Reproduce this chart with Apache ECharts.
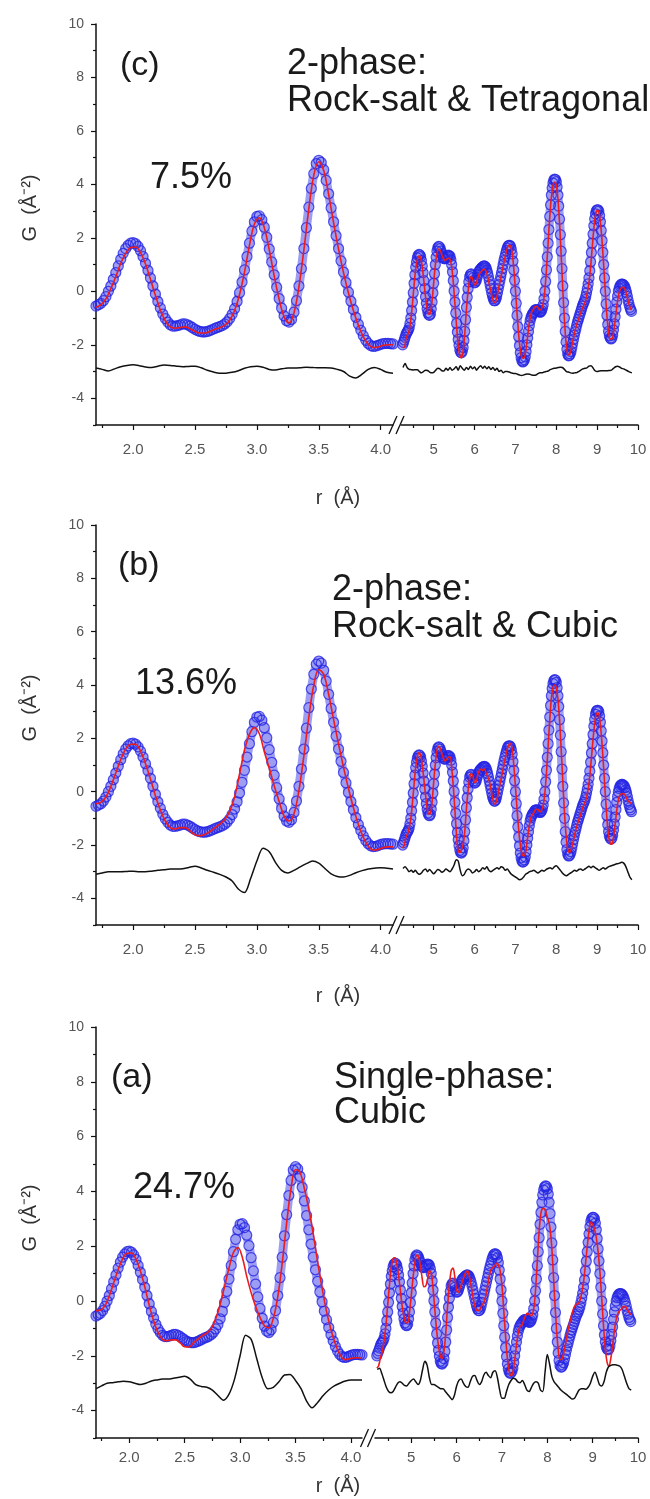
<!DOCTYPE html>
<html>
<head>
<meta charset="utf-8">
<script src="https://cdn.jsdelivr.net/npm/echarts@6/dist/echarts.min.js"></script>
<style>
  html, body { margin: 0; padding: 0; background: #fff; }
  #chart { width: 650px; height: 1499px; }
</style>
</head>
<body>
<div id="chart"></div>
<script>
// ---- data (G in 1/A^2) ----
// observed G(r), the same experimental curve in all three panels
// left part: r = 1.70 .. 4.10, step 0.02
const OBS_L = [
  -0.55,-0.50,-0.45,-0.35,-0.20,0.00,0.20,0.45,0.70,0.95,
  1.20,1.42,1.60,1.72,1.80,1.82,1.78,1.68,1.52,1.30,
  1.05,0.78,0.50,0.20,-0.10,-0.38,-0.62,-0.85,-1.02,-1.15,
  -1.25,-1.30,-1.30,-1.28,-1.25,-1.22,-1.22,-1.25,-1.30,-1.36,
  -1.42,-1.47,-1.50,-1.52,-1.52,-1.50,-1.47,-1.43,-1.39,-1.35,
  -1.32,-1.28,-1.22,-1.14,-1.02,-0.86,-0.65,-0.38,-0.05,0.35,
  0.80,1.30,1.80,2.25,2.60,2.80,2.82,2.68,2.40,2.02,
  1.58,1.10,0.62,0.15,-0.27,-0.63,-0.92,-1.10,-1.15,-1.05,
  -0.78,-0.35,0.20,0.85,1.60,2.38,3.15,3.85,4.40,4.78,
  4.90,4.82,4.55,4.15,3.65,3.12,2.60,2.08,1.60,1.14,
  0.72,0.33,-0.03,-0.37,-0.68,-0.97,-1.23,-1.46,-1.66,-1.83,
  -1.95,-2.03,-2.06,-2.05,-2.02,-1.98,-1.96,-1.95,-1.95,-1.96,
  -1.97
];
// right part: r = 4.24 .. 9.84, step 0.02
const OBS_R = [
  -2.00,-1.91,-1.82,-1.72,-1.62,-1.55,-1.50,-1.45,-1.36,-1.20,
  -1.00,-0.72,-0.40,-0.05,0.30,0.62,0.90,1.10,1.25,1.34,
  1.38,1.36,1.30,1.15,0.95,0.70,0.40,0.10,-0.20,-0.45,
  -0.65,-0.80,-0.88,-0.90,-0.85,-0.66,-0.40,-0.06,0.30,0.66,
  1.00,1.28,1.50,1.63,1.68,1.66,1.60,1.50,1.40,1.31,
  1.25,1.22,1.22,1.26,1.30,1.34,1.35,1.34,1.30,1.18,
  1.00,0.73,0.40,0.01,-0.40,-0.81,-1.20,-1.53,-1.80,-2.02,
  -2.20,-2.28,-2.30,-2.24,-2.10,-1.84,-1.50,-1.06,-0.60,-0.22,
  0.10,0.35,0.55,0.63,0.65,0.59,0.50,0.40,0.32,0.34,
  0.40,0.51,0.62,0.71,0.78,0.82,0.85,0.89,0.92,0.94,
  0.95,0.93,0.88,0.79,0.68,0.55,0.40,0.25,0.10,-0.05,
  -0.18,-0.28,-0.35,-0.35,-0.30,-0.19,-0.05,0.10,0.25,0.40,
  0.55,0.70,0.85,1.00,1.15,1.28,1.40,1.52,1.62,1.69,
  1.72,1.72,1.68,1.57,1.40,1.13,0.80,0.41,0.00,-0.45,
  -0.90,-1.32,-1.70,-2.03,-2.30,-2.48,-2.60,-2.64,-2.62,-2.56,
  -2.45,-2.25,-2.00,-1.75,-1.50,-1.28,-1.10,-0.98,-0.90,-0.84,
  -0.80,-0.75,-0.70,-0.68,-0.68,-0.70,-0.72,-0.76,-0.78,-0.77,
  -0.72,-0.63,-0.50,-0.28,0.00,0.37,0.80,1.29,1.80,2.31,
  2.80,3.23,3.60,3.87,4.05,4.16,4.20,4.18,4.10,3.90,
  3.60,3.19,2.70,2.12,1.50,0.85,0.20,-0.42,-1.00,-1.50,
  -1.90,-2.17,-2.35,-2.41,-2.40,-2.34,-2.25,-2.11,-1.95,-1.80,
  -1.65,-1.52,-1.40,-1.27,-1.15,-1.05,-0.95,-0.85,-0.75,-0.65,
  -0.55,-0.47,-0.40,-0.31,-0.20,-0.06,0.10,0.28,0.50,0.77,
  1.10,1.45,1.80,2.14,2.45,2.71,2.90,3.01,3.05,3.05,
  3.00,2.84,2.60,2.28,1.90,1.46,1.00,0.50,0.00,-0.47,
  -0.90,-1.24,-1.50,-1.66,-1.75,-1.78,-1.75,-1.63,-1.45,-1.22,
  -0.95,-0.67,-0.40,-0.18,0.00,0.12,0.20,0.25,0.27,0.27,
  0.25,0.21,0.15,0.06,-0.05,-0.19,-0.35,-0.48,-0.60,-0.68,
  -0.75
];

// calculated G(r) of each model: left r = 1.70 .. 4.10, right r = 4.24 .. 9.84, step 0.04
const CALC_C_L = [
  -0.60,-0.50,-0.28,0.10,0.55,1.05,1.42,1.64,1.66,1.45,
  1.02,0.45,-0.15,-0.70,-1.10,-1.32,-1.38,-1.35,-1.33,-1.40,
  -1.50,-1.56,-1.56,-1.50,-1.42,-1.36,-1.27,-1.08,-0.72,-0.12,
  0.72,1.72,2.52,2.75,2.38,1.55,0.58,-0.30,-0.95,-1.18,
  -0.80,0.18,1.56,3.10,4.35,4.85,4.52,3.62,2.57,1.58,
  0.70,-0.06,-0.72,-1.27,-1.70,-1.98,-2.10,-2.08,-2.02,-2.00,
  -2.00
];
const CALC_C_R = [
  -2.10,-2.10,-1.78,-1.62,-1.45,-1.07,-0.47,0.23,0.83,1.18,
  1.32,1.25,0.92,0.38,-0.20,-0.65,-0.86,-0.80,-0.36,0.32,
  0.98,1.42,1.58,1.52,1.36,1.22,1.16,1.20,1.24,1.20,
  0.92,0.33,-0.47,-1.30,-2.00,-2.40,-2.48,-2.22,-1.60,-0.70,
  -0.02,0.43,0.55,0.42,0.24,0.30,0.50,0.66,0.73,0.80,
  0.82,0.75,0.56,0.28,0.00,-0.26,-0.42,-0.36,-0.10,0.20,
  0.49,0.80,1.10,1.37,1.60,1.72,1.70,1.44,0.86,0.06,
  -0.82,-1.62,-2.20,-2.48,-2.50,-2.35,-1.92,-1.42,-1.00,-0.77,
  -0.67,-0.58,-0.56,-0.62,-0.70,-0.65,-0.45,0.03,0.82,1.80,
  2.77,3.52,3.96,4.08,3.97,3.46,2.56,1.36,0.06,-1.08,
  -1.92,-2.34,-2.38,-2.20,-1.90,-1.60,-1.36,-1.14,-0.98,-0.80,
  -0.62,-0.50,-0.32,-0.04,0.32,0.90,1.65,2.35,2.85,3.03,
  2.98,2.58,1.88,0.98,-0.02,-0.92,-1.52,-1.78,-1.78,-1.53,
  -1.10,-0.58,-0.18,0.05,0.14,0.15,0.07,-0.11,-0.37,-0.58,
  -0.70
];
const CALC_B_L = [
  -0.45,-0.40,-0.20,0.20,0.70,1.20,1.60,1.78,1.78,1.52,
  1.05,0.48,-0.15,-0.68,-1.10,-1.35,-1.40,-1.35,-1.35,-1.47,
  -1.62,-1.65,-1.60,-1.50,-1.36,-1.22,-1.04,-0.74,-0.20,0.67,
  1.55,2.15,2.40,2.17,1.50,0.88,0.22,-0.37,-0.92,-1.10,
  -0.83,0.05,1.35,2.80,4.00,4.58,4.40,3.65,2.70,1.78,
  0.92,0.12,-0.60,-1.23,-1.71,-2.05,-2.19,-2.17,-2.10,-2.07,
  -2.07
];
const CALC_B_R = [
  -2.12,-2.00,-1.72,-1.58,-1.36,-1.02,-0.42,0.28,0.92,1.30,
  1.46,1.38,1.00,0.45,-0.12,-0.62,-0.84,-0.82,-0.40,0.36,
  1.04,1.55,1.70,1.62,1.42,1.25,1.15,1.22,1.30,1.30,
  0.90,0.20,-0.72,-1.65,-2.22,-2.28,-2.18,-1.98,-1.50,-0.65,
  0.02,0.50,0.68,0.58,0.35,0.38,0.65,0.80,0.85,0.80,
  0.85,0.70,0.58,0.40,0.10,-0.22,-0.45,-0.42,-0.20,0.12,
  0.40,0.70,1.02,1.32,1.58,1.75,1.80,1.60,1.00,0.20,
  -0.65,-1.42,-2.00,-2.32,-2.42,-2.35,-1.95,-1.48,-1.10,-0.90,
  -0.82,-0.70,-0.66,-0.68,-0.76,-0.70,-0.52,-0.06,0.70,1.70,
  2.68,3.50,3.92,4.00,3.90,3.48,2.70,1.60,0.38,-0.76,
  -1.64,-2.15,-2.28,-2.20,-1.95,-1.68,-1.42,-1.20,-1.02,-0.85,
  -0.62,-0.48,-0.32,-0.08,0.30,0.92,1.62,2.28,2.78,2.95,
  2.92,2.50,1.78,0.88,-0.10,-1.00,-1.66,-1.95,-1.97,-1.70,
  -1.23,-0.70,-0.30,-0.12,-0.08,-0.07,-0.12,-0.25,-0.35,-0.40,
  -0.45
];
const CALC_A_L = [
  -0.35,-0.33,-0.18,0.19,0.67,1.15,1.54,1.74,1.75,1.53,
  1.10,0.52,-0.15,-0.72,-1.15,-1.40,-1.45,-1.42,-1.42,-1.53,
  -1.67,-1.68,-1.52,-1.39,-1.26,-1.17,-1.00,-0.65,-0.13,0.53,
  1.20,1.77,1.95,1.60,0.90,0.30,-0.20,-0.60,-0.90,-0.98,
  -0.63,0.15,1.38,2.84,4.12,4.80,4.70,4.10,3.35,2.45,
  1.42,0.47,-0.38,-1.05,-1.58,-1.95,-2.13,-2.12,-2.08,-2.07,
  -2.09
];
const CALC_A_R = [
  -2.45,-2.36,-2.07,-1.85,-1.46,-0.90,-0.15,0.62,1.25,1.55,
  1.58,1.36,0.93,0.36,-0.20,-0.59,-0.79,-0.79,-0.42,0.20,
  0.86,1.41,1.68,1.62,1.30,0.83,0.52,0.55,0.80,1.10,
  1.03,0.45,-0.33,-1.09,-1.65,-2.01,-2.10,-1.84,-1.18,-0.20,
  0.58,1.11,1.20,0.88,0.42,0.32,0.49,0.68,0.87,1.04,
  1.09,0.91,0.55,0.14,-0.18,-0.33,-0.35,-0.29,-0.15,-0.05,
  0.17,0.53,0.91,1.15,1.22,1.28,1.38,1.32,1.10,0.55,
  -0.35,-1.30,-2.10,-2.58,-2.72,-2.61,-2.16,-1.62,-1.15,-0.92,
  -0.88,-0.70,-0.53,-0.45,-0.48,-0.54,-0.45,-0.02,0.90,2.05,
  2.95,3.35,3.38,3.30,3.05,2.85,2.35,1.38,0.15,-0.95,
  -1.77,-2.14,-2.12,-1.92,-1.57,-1.21,-0.90,-0.60,-0.37,-0.20,
  -0.12,-0.10,0.02,0.30,0.70,1.32,1.98,2.55,2.88,2.80,
  2.62,2.32,1.80,1.07,0.10,-0.92,-1.76,-2.25,-2.37,-2.10,
  -1.62,-1.07,-0.66,-0.44,-0.35,-0.28,-0.20,-0.20,-0.31,-0.40,
  -0.51
];

// difference curves (offset to about -3): left r = 1.70 .. 4.10, right r = 4.25 .. 9.85, step 0.05
const DIFF_C_L = [
  -2.87,-2.92,-2.98,-2.90,-2.82,-2.77,-2.75,-2.78,-2.83,-2.85,
  -2.80,-2.76,-2.77,-2.80,-2.82,-2.81,-2.80,-2.86,-2.95,-3.02,
  -3.06,-3.06,-3.03,-2.97,-2.88,-2.82,-2.80,-2.84,-2.92,-2.94,
  -2.90,-2.87,-2.87,-2.86,-2.84,-2.85,-2.86,-2.86,-2.87,-2.92,
  -3.00,-3.17,-3.24,-3.10,-2.92,-2.85,-2.92,-3.03,-3.06
];
const DIFF_C_R = [
  -2.85,-2.70,-2.85,-2.92,-2.93,-2.94,-2.93,-2.93,-3.00,-3.05,
  -3.00,-2.95,-2.96,-3.02,-3.05,-3.03,-2.95,-2.88,-2.90,-2.97,
  -2.98,-2.88,-2.95,-2.85,-2.95,-2.90,-2.82,-2.95,-2.78,-2.88,
  -2.95,-2.85,-2.92,-2.80,-2.90,-2.83,-2.95,-2.85,-2.78,-2.88,
  -2.80,-2.90,-2.82,-2.92,-2.85,-2.95,-2.88,-3.00,-2.95,-3.05,
  -3.00,-3.00,-3.02,-3.05,-3.07,-3.07,-3.10,-3.13,-3.15,-3.13,
  -3.10,-3.09,-3.10,-3.13,-3.14,-3.13,-3.08,-3.05,-3.05,-3.02,
  -3.00,-2.98,-2.93,-2.90,-2.88,-2.87,-2.85,-2.84,-2.85,-2.92,
  -3.00,-3.02,-3.05,-3.06,-3.05,-3.04,-3.00,-2.95,-2.90,-2.88,
  -2.86,-2.80,-2.78,-2.87,-2.97,-3.00,-2.98,-2.97,-2.97,-2.97,
  -2.97,-2.96,-2.95,-2.88,-2.82,-2.80,-2.83,-2.88,-2.90,-2.94,
  -2.98,-3.02,-3.05
];
const DIFF_B_L = [
  -3.10,-3.05,-3.00,-3.00,-3.00,-2.99,-2.98,-3.00,-3.00,-2.98,
  -2.95,-2.93,-2.90,-2.90,-2.89,-2.84,-2.80,-2.86,-2.95,-3.02,
  -3.10,-3.20,-3.35,-3.65,-3.78,-3.25,-2.60,-2.12,-2.25,-2.65,
  -2.95,-3.05,-2.95,-2.82,-2.70,-2.60,-2.68,-2.88,-3.08,-3.18,
  -3.20,-3.14,-3.04,-2.96,-2.90,-2.87,-2.85,-2.87,-2.90
];
const DIFF_B_R = [
  -2.88,-2.82,-2.90,-3.00,-2.95,-3.02,-2.95,-3.05,-3.10,-3.05,
  -2.95,-2.90,-3.00,-2.92,-3.00,-3.08,-3.00,-2.92,-2.95,-3.02,
  -2.98,-2.90,-2.95,-3.00,-2.90,-2.75,-2.55,-2.60,-2.95,-3.15,
  -3.10,-2.95,-2.90,-2.95,-3.05,-3.00,-2.92,-3.00,-2.95,-2.85,
  -2.90,-2.82,-2.95,-3.00,-2.95,-2.90,-2.85,-2.90,-2.82,-2.85,
  -2.95,-2.90,-3.00,-3.10,-3.15,-3.20,-3.25,-3.30,-3.28,-3.20,
  -3.10,-3.05,-3.00,-2.98,-2.95,-3.00,-3.05,-3.00,-2.95,-2.98,
  -2.92,-2.88,-2.85,-2.90,-2.82,-2.78,-2.85,-2.95,-3.05,-3.12,
  -3.15,-3.10,-3.05,-3.00,-2.95,-2.98,-2.92,-2.90,-2.95,-2.90,
  -2.85,-2.80,-2.85,-2.80,-2.85,-2.90,-2.95,-2.90,-2.85,-2.90,
  -2.85,-2.80,-2.78,-2.75,-2.72,-2.70,-2.68,-2.65,-2.68,-2.80,
  -3.00,-3.20,-3.30
];
const DIFF_A_L = [
  -3.20,-3.10,-3.00,-2.98,-2.95,-2.93,-2.95,-3.00,-3.05,-3.00,
  -2.92,-2.88,-2.85,-2.85,-2.82,-2.78,-2.75,-2.85,-3.05,-3.12,
  -3.15,-3.25,-3.45,-3.62,-3.40,-2.85,-2.00,-1.25,-1.40,-2.10,
  -2.80,-3.20,-3.15,-2.95,-2.70,-2.68,-2.90,-3.20,-3.65,-3.90,
  -3.70,-3.45,-3.25,-3.10,-3.00,-2.92,-2.88,-2.88,-2.88
];
const DIFF_A_R = [
  -2.50,-2.45,-2.65,-2.90,-3.15,-3.30,-3.35,-3.30,-3.15,-3.00,
  -2.95,-3.00,-3.08,-3.10,-3.00,-2.90,-2.85,-2.95,-3.05,-2.90,
  -2.50,-2.20,-2.35,-2.80,-3.05,-3.05,-3.10,-3.15,-3.20,-3.20,
  -3.30,-3.40,-3.50,-3.60,-3.45,-3.10,-2.90,-2.85,-3.00,-3.12,
  -3.15,-2.95,-2.75,-2.72,-2.90,-3.05,-2.95,-2.70,-2.60,-2.72,
  -2.80,-2.60,-2.55,-2.80,-3.25,-3.55,-3.55,-3.30,-3.05,-2.90,
  -2.82,-2.85,-2.95,-2.98,-2.90,-3.05,-3.25,-3.30,-3.15,-3.00,
  -2.95,-3.00,-3.25,-3.30,-2.60,-1.95,-2.30,-2.75,-2.95,-3.05,
  -3.15,-3.25,-3.32,-3.38,-3.45,-3.52,-3.58,-3.55,-3.40,-3.25,
  -3.20,-3.20,-3.22,-3.15,-3.00,-2.75,-2.60,-2.80,-3.05,-3.10,
  -2.95,-2.60,-2.40,-2.35,-2.33,-2.33,-2.35,-2.38,-2.50,-2.75,
  -3.00,-3.20,-3.25
];

// axis ticks
const Y_MAJOR = [-4, -2, 0, 2, 4, 6, 8, 10];
const Y_MINOR = [-5, -3, -1, 1, 3, 5, 7, 9];
const XL_MAJOR = [2.0, 2.5, 3.0, 3.5, 4.0];
const XL_MINOR = [1.75, 2.25, 2.75, 3.25, 3.75];
const XR_MAJOR = [5, 6, 7, 8, 9, 10];
const XR_MINOR = [4.5, 5.5, 6.5, 7.5, 8.5, 9.5];

const PANELS = [
  { calcL: CALC_C_L, calcR: CALC_C_R, diffL: DIFF_C_L, diffR: DIFF_C_R,
    label: '(c)', phase: ['2-phase:', 'Rock-salt & Tetragonal'], rw: '7.5%' },
  { calcL: CALC_B_L, calcR: CALC_B_R, diffL: DIFF_B_L, diffR: DIFF_B_R,
    label: '(b)', phase: ['2-phase:', 'Rock-salt & Cubic'], rw: '13.6%' },
  { calcL: CALC_A_L, calcR: CALC_A_R, diffL: DIFF_A_L, diffR: DIFF_A_R,
    label: '(a)', phase: ['Single-phase:', 'Cubic'], rw: '24.7%' }
];

// layout of each panel (pixels)
const LAYOUT = [
  { top: 24, bottom: 425, leftEnd: 393, rightStart: 401, xMargin: 17,
    lab: [120, 66], ph: [287, 64, 101], rwp: [150, 178], yName: 208, xName: 498 },
  { top: 525, bottom: 925, leftEnd: 393, rightStart: 401, xMargin: 17,
    lab: [118, 566], ph: [332, 590, 627], rwp: [135, 684], yName: 708, xName: 996 },
  { top: 1027, bottom: 1438, leftEnd: 362, rightStart: 375, xMargin: 12,
    lab: [111, 1078], ph: [334, 1078, 1113], rwp: [133, 1188], yName: 1218, xName: 1486 }
];
const PLOT_LEFT = 96, PLOT_RIGHT = 638;

const FONT = '"Liberation Sans", Arial, sans-serif';
const BLUE = '#2424e4', RED = '#ee1b1b', INK = '#111';

function pts(start, step, ys) {
  return ys.map((y, i) => [Math.round((start + i * step) * 1000) / 1000, y]);
}

const grid = [], xAxis = [], yAxis = [], series = [], graphic = [];

const tickStyle = { color: INK, width: 1.2 };
const labelStyle = { color: '#555', fontFamily: FONT };

function xAx(gi, min, max, major, minor, fmt, margin) {
  xAxis.push({
    type: 'value', gridIndex: gi, position: 'bottom', min: min, max: max,
    splitLine: { show: false },
    axisLine: { show: true, onZero: false, lineStyle: { color: INK, width: 1.5 } },
    axisTick: { show: true, length: 5, customValues: major, lineStyle: tickStyle },
    axisLabel: Object.assign({ show: true, margin: margin, fontSize: 15, customValues: major, formatter: fmt }, labelStyle)
  });
  xAxis.push({
    type: 'value', gridIndex: gi, position: 'bottom', min: min, max: max,
    splitLine: { show: false }, axisLine: { show: false, onZero: false },
    axisTick: { show: true, length: 3, customValues: minor, lineStyle: tickStyle },
    axisLabel: { show: false }
  });
}

PANELS.forEach((p, k) => {
  const L = LAYOUT[k];
  const h = L.bottom - L.top;
  grid.push({ left: PLOT_LEFT, top: L.top, width: L.leftEnd - PLOT_LEFT, height: h, outerBoundsMode: 'none' });
  grid.push({ left: L.rightStart, top: L.top, width: PLOT_RIGHT - L.rightStart, height: h, outerBoundsMode: 'none' });
  const gL = 2 * k, gR = 2 * k + 1;

  xAx(gL, 1.7, 4.1, XL_MAJOR, XL_MINOR, v => v.toFixed(1), L.xMargin);
  xAx(gR, 4.2, 10, XR_MAJOR, XR_MINOR, v => String(v), L.xMargin);

  yAxis.push({
    type: 'value', gridIndex: gL, position: 'left', min: -5, max: 10, interval: 1,
    splitLine: { show: false },
    axisLine: { show: true, onZero: false, lineStyle: { color: INK, width: 1.5 } },
    axisTick: { show: true, length: 5, customValues: Y_MAJOR, lineStyle: tickStyle },
    axisLabel: Object.assign({ show: true, margin: 12, fontSize: 14, customValues: Y_MAJOR }, labelStyle)
  });
  yAxis.push({
    type: 'value', gridIndex: gL, position: 'left', min: -5, max: 10, interval: 1,
    splitLine: { show: false }, axisLine: { show: false, onZero: false },
    axisTick: { show: true, length: 3, customValues: Y_MINOR, lineStyle: tickStyle },
    axisLabel: { show: false }
  });
  yAxis.push({
    type: 'value', gridIndex: gR, position: 'left', min: -5, max: 10, interval: 1, show: false
  });

  const xl = 4 * k, xr = 4 * k + 2, yl = 3 * k, yr = 3 * k + 2;
  const obsStyle = { color: 'rgba(0,0,0,0)', borderColor: BLUE, borderWidth: 1.25 };
  const segs = [
    [xl, yl, pts(1.70, 0.02, OBS_L), pts(1.70, 0.04, p.calcL), pts(1.70, 0.05, p.diffL)],
    [xr, yr, pts(4.24, 0.02, OBS_R), pts(4.24, 0.04, p.calcR), pts(4.25, 0.05, p.diffR)]
  ];
  segs.forEach(s => {
    // band behind the open circles, so the dense data read as one thick trace
    series.push({ type: 'line', xAxisIndex: s[0], yAxisIndex: s[1], data: s[2],
      showSymbol: false, lineStyle: { color: 'rgba(60,60,232,0.5)', width: 9, cap: 'round', join: 'round' },
      silent: true, z: 1 });
    series.push({ type: 'scatter', xAxisIndex: s[0], yAxisIndex: s[1], data: s[2],
      symbol: 'circle', symbolSize: 10, itemStyle: obsStyle, silent: true, z: 2 });
    series.push({ type: 'line', xAxisIndex: s[0], yAxisIndex: s[1], data: s[3],
      showSymbol: false, smooth: 0.35, lineStyle: { color: RED, width: 1.6 }, silent: true, z: 3 });
    series.push({ type: 'line', xAxisIndex: s[0], yAxisIndex: s[1], data: s[4],
      showSymbol: false, smooth: 0.3, lineStyle: { color: INK, width: 1.5 }, silent: true, z: 3 });
  });

  // texts
  const big = (txt, x, y, size) => graphic.push({ type: 'text', x: x, y: y, silent: true,
    style: { text: txt, font: size + 'px ' + FONT, fill: '#1a1a1a', textAlign: 'left', textVerticalAlign: 'middle' } });
  big(p.label, L.lab[0], L.lab[1], 34);
  big(p.phase[0], L.ph[0], L.ph[1], 36);
  big(p.phase[1], L.ph[0], L.ph[2], 36);
  big(p.rw, L.rwp[0], L.rwp[1], 36);

  graphic.push({ type: 'text', x: 30, y: L.yName, rotation: Math.PI / 2, silent: true,
    style: { text: 'G  (Å⁻²)', font: '20px ' + FONT, fill: '#333', textAlign: 'center', textVerticalAlign: 'middle' } });
  graphic.push({ type: 'text', x: 338, y: L.xName, silent: true,
    style: { text: 'r  (Å)', font: '20px ' + FONT, fill: '#333', textAlign: 'center', textVerticalAlign: 'middle' } });

  // axis break marks
  const xm = (L.leftEnd + L.rightStart) / 2, yb = L.bottom;
  [-4, 3].forEach(dx => graphic.push({ type: 'line', silent: true,
    shape: { x1: xm + dx - 4, y1: yb + 9, x2: xm + dx + 4, y2: yb - 9 },
    style: { stroke: INK, lineWidth: 1.3 } }));
});

const chart = echarts.init(document.getElementById('chart'));
chart.setOption({
  animation: false,
  backgroundColor: '#fff',
  grid: grid, xAxis: xAxis, yAxis: yAxis, series: series, graphic: graphic
});
</script>
</body>
</html>
